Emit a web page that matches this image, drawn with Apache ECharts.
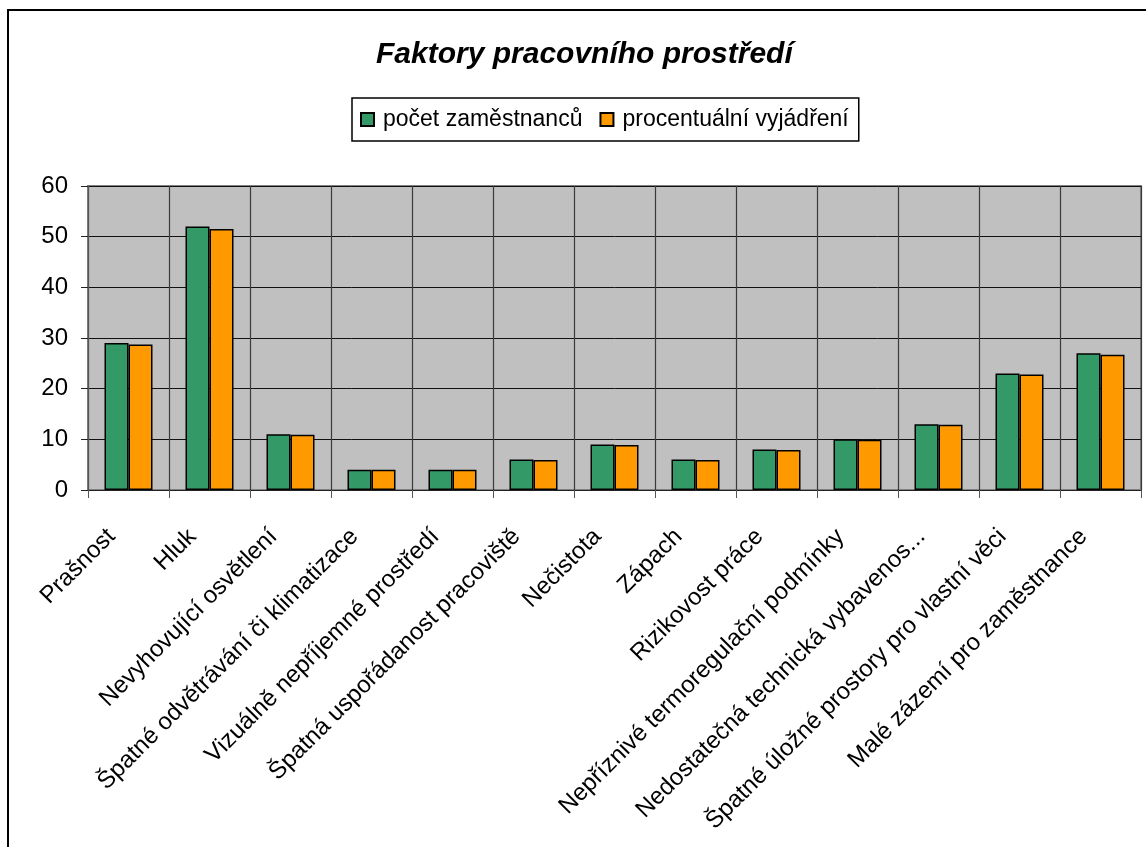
<!DOCTYPE html>
<html>
<head>
<meta charset="utf-8">
<script src="https://cdn.jsdelivr.net/npm/echarts@6/dist/echarts.min.js"></script>
<style>
  html, body { margin: 0; padding: 0; background: #fff; }
  #chart { width: 1146px; height: 847px; }
</style>
</head>
<body>
<div id="chart"></div>
<script>
const categories = [
  'Prašnost',
  'Hluk',
  'Nevyhovující osvětlení',
  'Špatné odvětrávání či klimatizace',
  'Vizuálně nepříjemné prostředí',
  'Špatná uspořádanost pracoviště',
  'Nečistota',
  'Zápach',
  'Rizikovost práce',
  'Nepříznivé termoregulační podmínky',
  'Nedostatečná technická vybavenos...',
  'Špatné úložné prostory pro vlastní věci',
  'Malé zázemí pro zaměstnance',
];
const employees = [29, 52, 11, 4, 4, 6, 9, 6, 8, 10, 13, 23, 27];
const percent = [28.7, 51.5, 10.9, 4, 4, 5.9, 8.9, 5.9, 7.9, 9.9, 12.9, 22.8, 26.7];
const seriesNames = ['počet zaměstnanců', 'procentuální vyjádření'];

const font = "'Liberation Sans', Arial, sans-serif";
const chart = echarts.init(document.getElementById('chart'));

chart.setOption({
  animation: false,
  backgroundColor: '#fff',
  textStyle: { fontFamily: font, color: '#000' },
  graphic: [
    {
      // outer chart frame, cut off on the right and bottom like the original
      type: 'rect',
      shape: { x: 8, y: 10, width: 1300, height: 1000 },
      style: { fill: 'none', stroke: '#000', lineWidth: 2 },
      silent: true,
    },
  ],
  title: {
    text: 'Faktory pracovního prostředí',
    left: 376,
    top: 40,
    padding: 0,
    textStyle: {
      fontFamily: font,
      fontSize: 30,
      fontWeight: 'bold',
      fontStyle: 'italic',
      color: '#000',
    },
  },
  legend: {
    data: seriesNames,
    icon: 'rect',
    left: 352,
    top: 98,
    padding: [10, 10, 10, 8],
    itemWidth: 13,
    itemHeight: 13,
    itemGap: 17,
    borderColor: '#000',
    borderWidth: 1.5,
    textStyle: { fontFamily: font, fontSize: 23, color: '#000', padding: [0, 0, 0, 4] },
  },
  grid: { left: 88, top: 186, right: 5, bottom: 357, containLabel: false,
    show: true, backgroundColor: '#C0C0C0', borderColor: '#808080', borderWidth: 2 },
  xAxis: {
    type: 'category',
    data: categories,
    boundaryGap: true,
    axisLine: { lineStyle: { color: '#222', width: 1 } },
    axisTick: { show: true, length: 8, lineStyle: { color: '#555' } },
    splitLine: { show: true, lineStyle: { color: '#3a3a3a', width: 1.2 } },
    axisLabel: {
      interval: 0,
      rotate: 45,
      margin: 26,
      padding: [0, 24, 0, 0],
      fontFamily: font,
      fontSize: 24,
      color: '#000',
    },
  },
  yAxis: {
    type: 'value',
    min: 0,
    max: 60,
    interval: 10,
    axisLine: { show: true, lineStyle: { color: '#555', width: 1 } },
    axisTick: { show: true, length: 7, lineStyle: { color: '#222' } },
    splitLine: { show: true, lineStyle: { color: '#111', width: 1 } },
    axisLabel: { margin: 20, fontFamily: font, fontSize: 24, color: '#000' },
  },
  series: [
    {
      name: seriesNames[0],
      type: 'bar',
      data: employees,
      barWidth: 24,
      barGap: '0%',
      itemStyle: { color: '#339966', borderColor: '#000', borderWidth: 1.5 },
    },
    {
      name: seriesNames[1],
      type: 'bar',
      data: percent,
      barWidth: 24,
      barGap: '0%',
      itemStyle: { color: '#FF9900', borderColor: '#000', borderWidth: 1.5 },
    },
  ],
});
</script>
</body>
</html>
